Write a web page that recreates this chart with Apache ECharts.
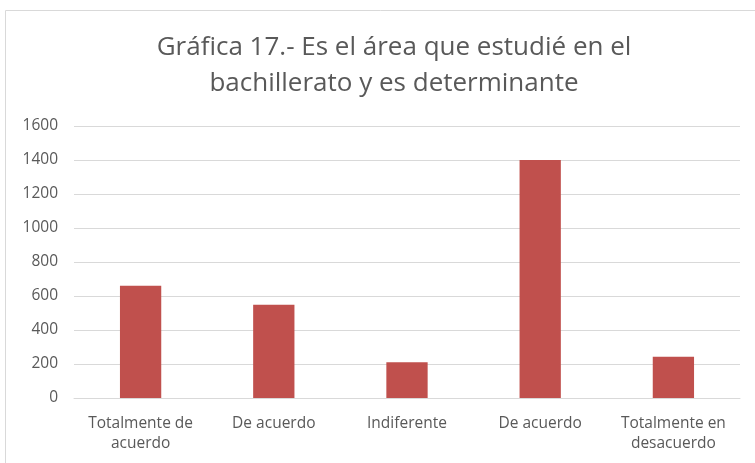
<!DOCTYPE html>
<html>
<head>
<meta charset="utf-8">
<script src="https://cdn.jsdelivr.net/npm/echarts@6/dist/echarts.min.js"></script>
<style>
  html, body { margin: 0; padding: 0; background: #fff; }
  #chart { width: 755px; height: 463px; }
</style>
</head>
<body>
<div id="chart"></div>
<script>
  const categories = ['Totalmente de\nacuerdo', 'De acuerdo', 'Indiferente', 'De acuerdo', 'Totalmente en\ndesacuerdo'];
  const values = [660, 548, 210, 1400, 243];
  const yTicks = { min: 0, max: 1600, interval: 200 };

  const chart = echarts.init(document.getElementById('chart'));
  const fontFam = '"Open Sans", "Noto Sans", sans-serif';

  chart.setOption({
    animation: false,
    graphic: [
      {
        type: 'rect',
        shape: { x: 5.5, y: 10.5, width: 760, height: 470 },
        style: { fill: 'none', stroke: '#d9d9d9', lineWidth: 1 }
      }
    ],
    title: {
      text: 'Gráfica 17.- Es el área que estudié en el\nbachillerato y es determinante',
      left: 389,
      textAlign: 'center',
      top: 25,
      textStyle: {
        fontFamily: fontFam,
        fontSize: 26,
        fontWeight: 'normal',
        color: '#595959',
        lineHeight: 36
      }
    },
    grid: { left: 74, right: 15, top: 126, bottom: 65, containLabel: false },
    xAxis: {
      type: 'category',
      data: categories,
      axisLine: { lineStyle: { color: '#d9d9d9' } },
      axisTick: { show: false },
      axisLabel: {
        interval: 0,
        color: '#595959',
        fontFamily: fontFam,
        fontSize: 15.5,
        lineHeight: 20,
        margin: 16
      }
    },
    yAxis: {
      type: 'value',
      min: yTicks.min,
      max: yTicks.max,
      interval: yTicks.interval,
      axisLine: { show: false },
      axisTick: { show: false },
      splitLine: { lineStyle: { color: '#d9d9d9' } },
      axisLabel: {
        color: '#595959',
        fontFamily: fontFam,
        fontSize: 15.5,
        margin: 16,
        formatter: (v) => String(v)
      }
    },
    series: [
      {
        type: 'bar',
        data: values,
        barWidth: '31%',
        itemStyle: { color: '#c0504d' }
      }
    ]
  });
</script>
</body>
</html>
